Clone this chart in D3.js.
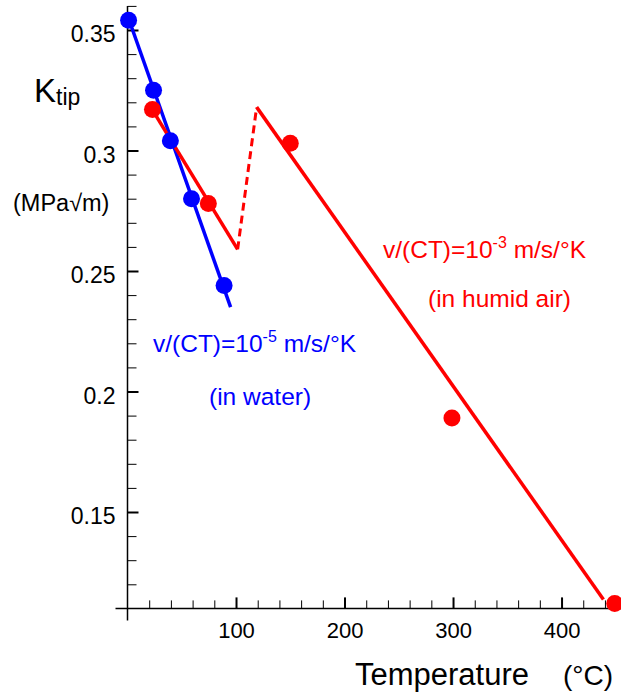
<!DOCTYPE html>
<html>
<head>
<meta charset="utf-8">
<script src="https://cdn.jsdelivr.net/npm/d3@7"></script>
<style>
  body { margin: 0; background: #fff; }
  text { font-family: "Liberation Sans", Arial, sans-serif; }
</style>
</head>
<body>
<svg id="chart" width="621" height="697"></svg>
<script>
// measured points (temperature in C, K_tip in MPa sqrt(m))
var waterT = [1, 24, 39.5, 59, 89];
var waterK = [0.354, 0.325, 0.304, 0.280, 0.244];
var airT = [23, 74.5, 150, 299, 449];
var airK = [0.317, 0.278, 0.303, 0.189, 0.112];

// fitted lines
var waterFitT = [0, 95],      waterFitK = [0.356, 0.235];
var airFit1T = [20, 101.5],   airFit1K = [0.319, 0.259];
var airJumpT = [101.5, 119],  airJumpK = [0.259, 0.318];
var airFit2T = [119, 438.6],  airFit2K = [0.318, 0.1137];

var xMajor = [100, 200, 300, 400];
var yMajor = [0.15, 0.2, 0.25, 0.3, 0.35];

var blue = "#0000ff", red = "#ff0000";

var svg = d3.select("#chart");

var xScale = d3.scaleLinear().domain([0, 450]).range([127.5, 615.8]),
    yScale = d3.scaleLinear().domain([0.11, 0.36]).range([608.4, 5.9]);

function zip(a, b) { return a.map(function(d, i) { return [d, b[i]]; }); }

var line = d3.line()
  .x(function(d) { return xScale(d[0]); })
  .y(function(d) { return yScale(d[1]); });

// y axis: minor ticks every 0.01, labels on majors
var yMinor = d3.range(12, 37).map(function(d) { return d / 100; })
  .filter(function(d) { return yMajor.indexOf(d) < 0; });

svg.append("g")
  .attr("transform", "translate(" + xScale(0) + ",0)")
  .call(d3.axisLeft(yScale).tickValues(yMinor).tickSize(-9).tickFormat(""))
  .call(function(g) { g.select(".domain").remove(); });

svg.append("g")
  .attr("class", "axis-y")
  .attr("transform", "translate(" + xScale(0) + ",0)")
  .call(d3.axisLeft(yScale).tickValues(yMajor).tickSizeInner(-11).tickSizeOuter(0).tickPadding(12)
          .tickFormat(function(d) { return String(d); }))
  .call(function(g) {
    g.select(".domain").remove();
    g.selectAll(".tick line").attr("stroke-width", 2);
    g.selectAll("text").attr("font-size", 23).attr("fill", "#000").attr("dy", "0.5em");
  });

// x axis: minor ticks every 20
var xMinor = d3.range(20, 460, 20).filter(function(d) { return d % 100 !== 0; });

svg.append("g")
  .attr("transform", "translate(0," + yScale(0.11) + ")")
  .call(d3.axisBottom(xScale).tickValues(xMinor).tickSize(-8).tickFormat(""))
  .call(function(g) { g.select(".domain").remove(); });

svg.append("g")
  .attr("transform", "translate(0," + yScale(0.11) + ")")
  .call(d3.axisBottom(xScale).tickValues(xMajor).tickSizeInner(-11).tickSizeOuter(0).tickPadding(14)
          .tickFormat(d3.format("d")))
  .call(function(g) {
    g.select(".domain").remove();
    g.selectAll(".tick line").attr("stroke-width", 2);
    g.selectAll("text").attr("font-size", 22).attr("fill", "#000").attr("dy", "0.71em");
  });

// axis lines, crossing a little past each other
svg.append("line")
  .attr("x1", xScale(0)).attr("x2", xScale(0))
  .attr("y1", yScale(0.36)).attr("y2", yScale(0.11) + 12)
  .attr("stroke", "#000").attr("stroke-width", 1.5);
svg.append("line")
  .attr("x1", xScale(0) - 12).attr("x2", 621)
  .attr("y1", yScale(0.11)).attr("y2", yScale(0.11))
  .attr("stroke", "#000").attr("stroke-width", 1.5);

// fit lines
svg.append("path").datum(zip(waterFitT, waterFitK))
  .attr("d", line).attr("fill", "none").attr("stroke", blue).attr("stroke-width", 3.5);
svg.append("path").datum(zip(airFit1T, airFit1K))
  .attr("d", line).attr("fill", "none").attr("stroke", red).attr("stroke-width", 3.5);
svg.append("path").datum(zip(airJumpT, airJumpK))
  .attr("d", line).attr("fill", "none").attr("stroke", red).attr("stroke-width", 3)
  .attr("stroke-dasharray", "8,5");
svg.append("path").datum(zip(airFit2T, airFit2K))
  .attr("d", line).attr("fill", "none").attr("stroke", red).attr("stroke-width", 3.5);

// points
svg.append("g").selectAll("circle")
  .data(zip(airT, airK)).enter()
  .append("circle")
    .attr("cx", function(d) { return xScale(d[0]); })
    .attr("cy", function(d) { return yScale(d[1]); })
    .attr("r", 8.5)
    .attr("fill", red);

svg.append("g").selectAll("circle")
  .data(zip(waterT, waterK)).enter()
  .append("circle")
    .attr("cx", function(d) { return xScale(d[0]); })
    .attr("cy", function(d) { return yScale(d[1]); })
    .attr("r", 8.5)
    .attr("fill", blue);

// axis titles
var ktip = svg.append("text").attr("x", 34).attr("y", 102).attr("font-size", 33);
ktip.append("tspan").text("K");
ktip.append("tspan").attr("font-size", 23).attr("dy", 3).text("tip");

svg.append("text").attr("x", 13).attr("y", 211).attr("font-size", 23.5).text("(MPa\u221Am)");

svg.append("text").attr("x", 355).attr("y", 685).attr("font-size", 31).text("Temperature");
svg.append("text").attr("x", 563).attr("y", 685).attr("font-size", 28).text("(\u00B0C)");

// annotations
function rateLabel(x, y, exp, color) {
  var t = svg.append("text").attr("x", x).attr("y", y).attr("font-size", 24.5).attr("fill", color);
  t.append("tspan").text("v/(CT)=10");
  t.append("tspan").attr("font-size", 16).attr("dy", -10).text(exp);
  t.append("tspan").attr("dy", 10).text(" m/s/\u00B0K");
}
rateLabel(153, 352, "-5", blue);
svg.append("text").attr("x", 209).attr("y", 405).attr("font-size", 24.5).attr("fill", blue).text("(in water)");

rateLabel(383, 258, "-3", red);
svg.append("text").attr("x", 428).attr("y", 307).attr("font-size", 24.5).attr("fill", red).text("(in humid air)");
</script>
</body>
</html>
